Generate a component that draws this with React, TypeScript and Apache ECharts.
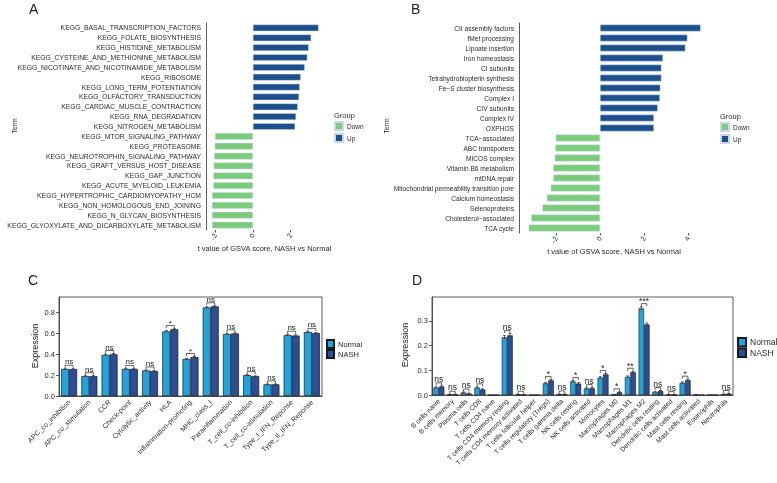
import React, { useEffect, useRef } from "react";
import * as echarts from "echarts";

const termsA = [
  "KEGG_BASAL_TRANSCRIPTION_FACTORS",
  "KEGG_FOLATE_BIOSYNTHESIS",
  "KEGG_HISTIDINE_METABOLISM",
  "KEGG_CYSTEINE_AND_METHIONINE_METABOLISM",
  "KEGG_NICOTINATE_AND_NICOTINAMIDE_METABOLISM",
  "KEGG_RIBOSOME",
  "KEGG_LONG_TERM_POTENTIATION",
  "KEGG_OLFACTORY_TRANSDUCTION",
  "KEGG_CARDIAC_MUSCLE_CONTRACTION",
  "KEGG_RNA_DEGRADATION",
  "KEGG_NITROGEN_METABOLISM",
  "KEGG_MTOR_SIGNALING_PATHWAY",
  "KEGG_PROTEASOME",
  "KEGG_NEUROTROPHIN_SIGNALING_PATHWAY",
  "KEGG_GRAFT_VERSUS_HOST_DISEASE",
  "KEGG_GAP_JUNCTION",
  "KEGG_ACUTE_MYELOID_LEUKEMIA",
  "KEGG_HYPERTROPHIC_CARDIOMYOPATHY_HCM",
  "KEGG_NON_HOMOLOGOUS_END_JOINING",
  "KEGG_N_GLYCAN_BIOSYNTHESIS",
  "KEGG_GLYOXYLATE_AND_DICARBOXYLATE_METABOLISM",
];
const tA = [3.49, 3.09, 2.96, 2.89, 2.75, 2.54, 2.49, 2.45, 2.38, 2.29, 2.24,
  -2.01, -2.03, -2.05, -2.08, -2.1, -2.1, -2.17, -2.17, -2.17, -2.17];
const ticksA = [-2, 0, 2];

const termsB = [
  "CII assembly factors",
  "fMet processing",
  "Lipoate insertion",
  "Iron homeostasis",
  "CI subunits",
  "Tetrahydrobiopterin synthesis",
  "Fe\u2212S cluster biosynthesis",
  "Complex I",
  "CIV subunits",
  "Complex IV",
  "OXPHOS",
  "TCA\u2212associated",
  "ABC transporters",
  "MICOS complex",
  "Vitamin B6 metabolism",
  "mtDNA repair",
  "Mitochondrial permeability transition pore",
  "Calcium homeostasis",
  "Selenoproteins",
  "Cholesterol\u2212associated",
  "TCA cycle",
];
const tB = [4.57, 3.97, 3.88, 2.86, 2.79, 2.79, 2.74, 2.72, 2.62, 2.45, 2.45,
  -2.01, -2.03, -2.06, -2.12, -2.12, -2.24, -2.42, -2.62, -3.12, -3.24];
const ticksB = [-2, 0, 2, 4];

const catsC = [
  "APC_co_inhibition", "APC_co_stimulation", "CCR", "Check-point", "Cytolytic_activity",
  "HLA", "Inflammation-promoting", "MHC_class_I", "Parainflammation",
  "T_cell_co-inhibition", "T_cell_co-stimulation", "Type_I_IFN_Reponse", "Type_II_IFN_Reponse",
];
const normalC = [0.26, 0.19, 0.395, 0.26, 0.245, 0.62, 0.355, 0.85, 0.595, 0.2, 0.112, 0.585, 0.613];
const nashC = [0.258, 0.19, 0.4, 0.26, 0.24, 0.64, 0.373, 0.86, 0.6, 0.19, 0.112, 0.58, 0.605];
const errNormalC = [0.006, 0.005, 0.008, 0.005, 0.005, 0.008, 0.006, 0.007, 0.007, 0.005, 0.004, 0.008, 0.007];
const errNashC = [0.005, 0.005, 0.007, 0.005, 0.005, 0.007, 0.006, 0.006, 0.006, 0.004, 0.004, 0.007, 0.006];
const sigC = ["ns", "ns", "ns", "ns", "ns", "*", "*", "ns", "ns", "ns", "ns", "ns", "ns"];
const ticksC = [0, 0.2, 0.4, 0.6, 0.8];

const catsD = [
  "B cells naive", "B cells memory", "Plasma cells", "T cells CD8", "T cells CD4 naive",
  "T cells CD4 memory resting", "T cells CD4 memory activated", "T cells follicular helper",
  "T cells regulatory (Tregs)", "T cells gamma delta", "NK cells resting", "NK cells activated",
  "Monocytes", "Macrophages M0", "Macrophages M1", "Macrophages M2", "Dendritic cells resting",
  "Dendritic cells activated", "Mast cells resting", "Mast cells activated", "Eosinophils", "Neutrophils",
];
const normalD = [0.03, 0.002, 0.01, 0.03, 0, 0.233, 0.002, 0, 0.047, 0.003, 0.055, 0.026,
  0.07, 0.002, 0.073, 0.35, 0.012, 0.001, 0.049, 0.001, 0, 0.003];
const nashD = [0.034, 0.002, 0.006, 0.022, 0, 0.241, 0.001, 0, 0.059, 0.003, 0.046, 0.027,
  0.083, 0.011, 0.092, 0.285, 0.016, 0.0005, 0.06, 0, 0, 0.005];
const errNormalD = [0.003, 0.001, 0.002, 0.003, 0, 0.007, 0.001, 0, 0.004, 0.001, 0.004, 0.003,
  0.004, 0.001, 0.004, 0.007, 0.002, 0.0005, 0.004, 0.0005, 0, 0.001];
const errNashD = [0.003, 0.001, 0.002, 0.003, 0, 0.007, 0.001, 0, 0.004, 0.001, 0.004, 0.003,
  0.004, 0.002, 0.004, 0.006, 0.002, 0.0005, 0.004, 0, 0, 0.001];
const sigD = ["ns", "ns", "ns", "ns", "", "ns", "ns", "", "*", "ns", "*", "ns",
  "*", "*", "**", "***", "ns", "ns", "*", "", "", "ns"];
const ticksD = [0, 0.1, 0.2, 0.3];

const GREEN = "#7BCC7A";
const NAVY = "#1C4F8C";
const LBLUE = "#1FA4DC";
const DBLUE = "#2E4D98";
const FONT = "Liberation Sans, Arial, sans-serif";
const TXT = "#2b2b2b";

function makeRender(norm: number[], nash: number[], eN: number[], eS: number[], sig: string[], barW: number, fs: number) {
  return (params: any, api: any) => {
    const i = params.dataIndex;
    const half = barW / 2;
    const cx = api.coord([i, 0])[0];
    const xs = [cx - half, cx + half];
    const vals = [norm[i], nash[i]];
    const errs = [eN[i], eS[i]];
    const children: any[] = [];
    for (let k = 0; k < 2; k++) {
      if (vals[k] > 0 && errs[k] > 0) {
        const yt = api.coord([i, vals[k] + errs[k]])[1];
        const yb = api.coord([i, Math.max(0, vals[k] - errs[k])])[1];
        children.push({ type: "line", shape: { x1: xs[k], y1: yt, x2: xs[k], y2: yb }, style: { stroke: "#222", lineWidth: 0.7 } });
        children.push({ type: "line", shape: { x1: xs[k] - 1.5, y1: yt, x2: xs[k] + 1.5, y2: yt }, style: { stroke: "#222", lineWidth: 0.7 } });
      }
    }
    if (sig[i]) {
      const top = Math.max(vals[0] + errs[0], vals[1] + errs[1]);
      const y = api.coord([i, top])[1] - 3;
      children.push({
        type: "polyline",
        shape: { points: [[xs[0], y + 2.5], [xs[0], y], [xs[1], y], [xs[1], y + 2.5]] },
        style: { stroke: "#222", fill: null, lineWidth: 0.7 },
      });
      children.push({
        type: "text",
        style: { text: sig[i], x: cx, y: sig[i] === "ns" ? y + 0.5 : y + 2, align: "center", verticalAlign: "bottom", fontSize: fs, fontFamily: FONT, fill: "#222222" },
      });
    }
    return { type: "group", children };
  };
}

export default function App() {
  const ref = useRef<HTMLDivElement>(null);
  useEffect(() => {
    if (!ref.current) return;
    const chart = echarts.init(ref.current, null, { renderer: "svg" });
    const upA = tA.map((v) => (v > 0 ? v : "-"));
    const downA = tA.map((v) => (v < 0 ? v : "-"));
    const upB = tB.map((v) => (v > 0 ? v : "-"));
    const downB = tB.map((v) => (v < 0 ? v : "-"));

    const hbarAxisY = (idx: number, data: string[], fs: number) => ({
      type: "category",
      gridIndex: idx,
      data,
      inverse: true,
      axisLine: { onZero: false, lineStyle: { color: "#333", width: 0.8 } },
      axisTick: { length: 2.5, lineStyle: { color: "#333", width: 0.8 } },
      axisLabel: { fontSize: fs, color: TXT, margin: 5, fontFamily: FONT, interval: 0 },
    });
    const hbarAxisX = (idx: number, min: number, max: number, ticks: number[]) => ({
      type: "value",
      gridIndex: idx,
      min,
      max,
      splitLine: { show: false },
      axisLine: { onZero: false, lineStyle: { color: "#333", width: 0.8 } },
      axisTick: { show: true, length: 2.5, customValues: ticks, lineStyle: { color: "#333", width: 0.8 } },
      axisLabel: { customValues: ticks, rotate: 60, fontSize: 7, color: TXT, margin: 4, fontFamily: FONT },
      name: "t value of GSVA score, NASH vs Normal",
      nameLocation: "middle",
      nameGap: 13,
      nameTextStyle: { fontSize: 7.5, color: TXT, fontFamily: FONT },
    });
    const vbarX = (idx: number, data: string[], fs: number) => ({
      type: "category",
      gridIndex: idx,
      data,
      axisLine: { lineStyle: { color: "#333", width: 0.8 } },
      axisTick: { alignWithLabel: true, length: 3, lineStyle: { color: "#333", width: 0.8 } },
      axisLabel: { rotate: 45, interval: 0, fontSize: fs, color: TXT, margin: 5, fontFamily: FONT },
    });
    const vbarY = (idx: number, max: number, ticks: number[]) => ({
      type: "value",
      gridIndex: idx,
      min: 0,
      max,
      splitLine: { show: false },
      axisLine: { show: true, lineStyle: { color: "#333", width: 0.8 } },
      axisTick: { show: true, length: 3, customValues: ticks, lineStyle: { color: "#333", width: 0.8 } },
      axisLabel: { customValues: ticks, fontSize: 7.5, color: TXT, margin: 4, fontFamily: FONT, formatter: (v: number) => v.toFixed(1) },
    });
    const barBorder = { borderColor: "#c9d8e8", borderWidth: 0.5 };
    const legendText = (fs: number) => ({ fontSize: fs, color: TXT, fontFamily: FONT, padding: [0, 0, 0, -1] });

    chart.setOption({
      animation: false,
      grid: [
        { left: 206, top: 23, width: 117, height: 207 },
        { left: 519, top: 23, width: 190, height: 210 },
        { left: 59, top: 297, width: 263, height: 99, show: true, borderColor: "#333", borderWidth: 0.8 },
        { left: 432, top: 297, width: 301, height: 98, show: true, borderColor: "#333", borderWidth: 0.8 },
      ],
      xAxis: [
        hbarAxisX(0, -2.49, 3.72, ticksA),
        hbarAxisX(1, -3.68, 4.95, ticksB),
        vbarX(2, catsC, 7),
        vbarX(3, catsD, 6.8),
      ],
      yAxis: [
        hbarAxisY(0, termsA, 6.8),
        hbarAxisY(1, termsB, 6.6),
        vbarY(2, 0.95, ticksC),
        vbarY(3, 0.396, ticksD),
      ],
      legend: [
        { left: 334, top: 121, orient: "vertical", itemWidth: 8, itemHeight: 8, itemGap: 2, icon: "rect", data: ["Down", "Up"], textStyle: legendText(6.5), padding: 0 },
        { left: 720, top: 122, orient: "vertical", itemWidth: 8, itemHeight: 8, itemGap: 2, icon: "rect", data: ["Down", "Up"], textStyle: legendText(6.5), padding: 0 },
        { left: 326, top: 339, orient: "vertical", itemWidth: 7, itemHeight: 8, itemGap: 0, icon: "rect", data: ["Normal", "NASH"], textStyle: legendText(7.5), padding: 0 },
        { left: 737, top: 337, orient: "vertical", itemWidth: 8, itemHeight: 8.5, itemGap: 0, icon: "rect", data: ["Normal", "NASH"], textStyle: legendText(8.5), padding: 0 },
      ],
      series: [
        { name: "Up", type: "bar", xAxisIndex: 0, yAxisIndex: 0, stack: "a", data: upA, barWidth: "68%", itemStyle: { color: NAVY, ...barBorder } },
        { name: "Down", type: "bar", xAxisIndex: 0, yAxisIndex: 0, stack: "a", data: downA, barWidth: "68%", itemStyle: { color: GREEN, ...barBorder } },
        { name: "Up", type: "bar", xAxisIndex: 1, yAxisIndex: 1, stack: "b", data: upB, barWidth: "68%", itemStyle: { color: NAVY, ...barBorder } },
        { name: "Down", type: "bar", xAxisIndex: 1, yAxisIndex: 1, stack: "b", data: downB, barWidth: "68%", itemStyle: { color: GREEN, ...barBorder } },
        { name: "Normal", type: "bar", xAxisIndex: 2, yAxisIndex: 2, data: normalC, barWidth: 8, barGap: "0%", itemStyle: { color: LBLUE, borderColor: "#1a1a1a", borderWidth: 0.7 } },
        { name: "NASH", type: "bar", xAxisIndex: 2, yAxisIndex: 2, data: nashC, barWidth: 8, barGap: "0%", itemStyle: { color: DBLUE, borderColor: "#1a1a1a", borderWidth: 0.7 } },
        { name: "Normal", type: "bar", xAxisIndex: 3, yAxisIndex: 3, data: normalD, barWidth: 5.5, barGap: "0%", itemStyle: { color: LBLUE, borderColor: "#1a1a1a", borderWidth: 0.6 } },
        { name: "NASH", type: "bar", xAxisIndex: 3, yAxisIndex: 3, data: nashD, barWidth: 5.5, barGap: "0%", itemStyle: { color: DBLUE, borderColor: "#1a1a1a", borderWidth: 0.6 } },
        {
          type: "custom", xAxisIndex: 2, yAxisIndex: 2, clip: false, z: 5,
          data: catsC.map((_, i) => [i, Math.max(normalC[i], nashC[i])]),
          renderItem: makeRender(normalC, nashC, errNormalC, errNashC, sigC, 8, 8),
        },
        {
          type: "custom", xAxisIndex: 3, yAxisIndex: 3, clip: false, z: 5,
          data: catsD.map((_, i) => [i, Math.max(normalD[i], nashD[i])]),
          renderItem: makeRender(normalD, nashD, errNormalD, errNashD, sigD, 5.5, 8.5),
        },
      ],
      graphic: [
        { type: "text", left: 29, top: 2, style: { text: "A", fontSize: 14, fill: "#222", fontFamily: FONT } },
        { type: "text", left: 411, top: 2, style: { text: "B", fontSize: 14, fill: "#222", fontFamily: FONT } },
        { type: "text", left: 28, top: 273, style: { text: "C", fontSize: 14, fill: "#222", fontFamily: FONT } },
        { type: "text", left: 412, top: 273, style: { text: "D", fontSize: 14, fill: "#222", fontFamily: FONT } },
        { type: "text", x: 334, y: 115, style: { text: "Group", fontSize: 7.5, fill: TXT, fontFamily: FONT, verticalAlign: "middle" } },
        { type: "text", x: 720, y: 116, style: { text: "Group", fontSize: 7.5, fill: TXT, fontFamily: FONT, verticalAlign: "middle" } },
        { type: "text", x: 14, y: 126, rotation: Math.PI / 2, style: { text: "Term", fontSize: 7, fill: TXT, fontFamily: FONT, align: "center", verticalAlign: "middle" } },
        { type: "text", x: 386, y: 126, rotation: Math.PI / 2, style: { text: "Term", fontSize: 7, fill: TXT, fontFamily: FONT, align: "center", verticalAlign: "middle" } },
        { type: "text", x: 35, y: 346, rotation: Math.PI / 2, style: { text: "Expression", fontSize: 9, fill: "#222", fontFamily: FONT, align: "center", verticalAlign: "middle" } },
        { type: "text", x: 405, y: 345, rotation: Math.PI / 2, style: { text: "Expression", fontSize: 9, fill: "#222", fontFamily: FONT, align: "center", verticalAlign: "middle" } },
      ],
    });
    return () => chart.dispose();
  }, []);
  return <div ref={ref} style={{ position: "fixed", left: 0, top: 0, width: 777, height: 483 }} />;
}
